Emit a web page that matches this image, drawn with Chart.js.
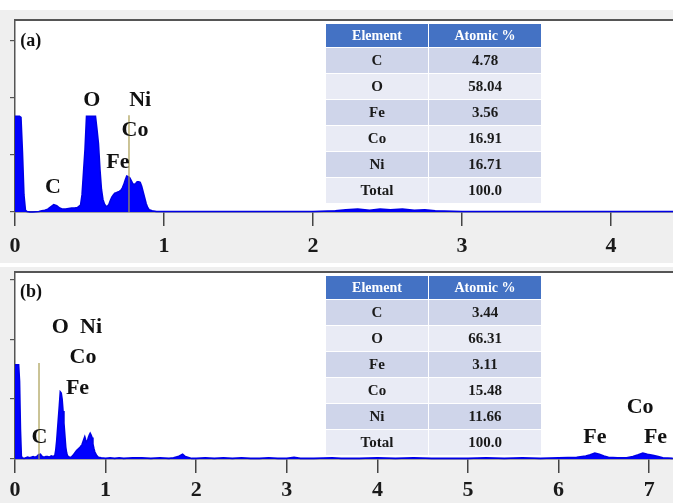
<!DOCTYPE html>
<html>
<head>
<meta charset="utf-8">
<script src="https://cdn.jsdelivr.net/npm/chart.js@4/dist/chart.umd.min.js"></script>
<style>
  html, body { margin:0; padding:0; background:#ffffff; width:673px; height:503px; overflow:hidden; }
  .bg { position:absolute; left:0; width:673px; background:#efefef; }
  .cw { position:absolute; left:0; width:673px; }
  table.eds { position:absolute; border-collapse:collapse; font-family:'Liberation Serif','Times New Roman',serif; font-weight:bold; color:#1a1a1a; }
  table.eds td, table.eds th { padding:0; text-align:center; border:1px solid #ffffff; }
  table.eds th { background:#4472c4; color:#ffffff; font-size:14px; }
  table.eds td { font-size:15px; }
  table.eds tr.d td { background:#cfd5ea; }
  table.eds tr.l td { background:#e9ebf5; }
</style>
</head>
<body>
<div class="bg" style="top:10px;height:253px;"></div>
<div class="bg" style="top:267px;height:236px;"></div>
<div class="cw" style="top:0;height:258px;"><canvas id="ca"></canvas></div>
<div class="cw" style="top:258px;height:245px;"><canvas id="cb"></canvas></div>
<table class="eds" id="ta" style="left:325px;top:23px;width:217px;"></table>
<table class="eds" id="tb" style="left:325px;top:275px;width:217px;"></table>
<script>
// ---------- DATA ----------
const tableElements = ['C', 'O', 'Fe', 'Co', 'Ni', 'Total'];
const atomicA = ['4.78', '58.04', '3.56', '16.91', '16.71', '100.0'];
const atomicB = ['3.44', '66.31', '3.11', '15.48', '11.66', '100.0'];
const tableHeaders = ['Element', 'Atomic %'];

const energyA = [0.00,0.01,0.02,0.03,0.04,0.05,0.06,0.07,0.08,0.10,0.12,0.14,0.16,0.18,0.20,0.22,0.24,0.26,0.28,0.30,0.32,0.34,0.36,0.38,0.40,0.42,0.44,0.45,0.46,0.47,0.48,0.49,0.50,0.51,0.52,0.53,0.54,0.55,0.56,0.57,0.58,0.59,0.60,0.61,0.62,0.63,0.64,0.65,0.66,0.67,0.68,0.69,0.70,0.71,0.72,0.73,0.74,0.75,0.76,0.77,0.78,0.79,0.80,0.81,0.82,0.83,0.84,0.85,0.86,0.87,0.88,0.89,0.90,0.92,0.95,1.00,1.20,1.50,2.00,2.15,2.22,2.30,2.38,2.45,2.52,2.60,2.68,2.75,2.82,3.00,3.50,4.00,4.50];
const countsA = [1.68,1.68,1.68,1.68,1.66,1.05,0.30,0.03,0.01,0.00,0.00,0.005,0.01,0.02,0.03,0.05,0.09,0.13,0.11,0.07,0.05,0.05,0.06,0.07,0.07,0.08,0.12,0.30,0.70,1.10,1.68,1.68,1.68,1.68,1.68,1.68,1.68,1.45,1.20,0.75,0.40,0.22,0.14,0.10,0.10,0.13,0.20,0.26,0.30,0.33,0.34,0.35,0.36,0.38,0.42,0.48,0.56,0.63,0.62,0.60,0.55,0.50,0.48,0.50,0.53,0.53,0.52,0.45,0.35,0.25,0.15,0.08,0.04,0.02,0.01,0.01,0.01,0.01,0.01,0.02,0.04,0.05,0.03,0.05,0.04,0.05,0.03,0.04,0.02,0.01,0.01,0.01,0.01];

const energyB = [0.00,0.01,0.02,0.03,0.04,0.05,0.06,0.07,0.08,0.10,0.12,0.14,0.16,0.18,0.20,0.22,0.24,0.26,0.28,0.30,0.32,0.34,0.36,0.38,0.40,0.42,0.44,0.45,0.46,0.47,0.48,0.49,0.50,0.51,0.52,0.53,0.54,0.55,0.56,0.57,0.58,0.60,0.62,0.64,0.66,0.68,0.70,0.72,0.74,0.76,0.77,0.78,0.79,0.80,0.81,0.82,0.83,0.84,0.85,0.86,0.87,0.88,0.90,0.92,0.95,1.00,1.05,1.10,1.15,1.20,1.30,1.40,1.50,1.60,1.70,1.75,1.80,1.85,1.88,1.95,2.00,2.10,2.20,2.30,2.40,2.50,2.60,2.70,2.80,2.90,3.00,3.08,3.15,3.30,3.50,3.60,3.80,4.00,4.20,4.40,4.60,4.80,5.00,5.20,5.40,5.60,5.80,6.00,6.20,6.30,6.35,6.40,6.45,6.50,6.55,6.65,6.75,6.82,6.88,6.93,6.98,7.04,7.10,7.15,7.26];
const countsB = [1.57,1.57,1.57,1.57,1.57,1.30,0.50,0.05,0.02,0.01,0.02,0.03,0.02,0.03,0.04,0.03,0.04,0.07,0.08,0.04,0.03,0.04,0.04,0.03,0.05,0.04,0.06,0.15,0.30,0.50,0.70,0.90,1.12,1.10,1.00,0.80,0.60,0.40,0.20,0.10,0.05,0.03,0.03,0.06,0.10,0.14,0.17,0.20,0.24,0.33,0.37,0.32,0.28,0.30,0.36,0.40,0.43,0.40,0.36,0.25,0.18,0.12,0.06,0.03,0.02,0.01,0.02,0.01,0.02,0.01,0.02,0.02,0.01,0.02,0.01,0.02,0.04,0.08,0.04,0.01,0.01,0.02,0.01,0.02,0.01,0.02,0.01,0.01,0.02,0.01,0.01,0.03,0.01,0.01,0.02,0.01,0.01,0.02,0.01,0.02,0.01,0.01,0.01,0.02,0.01,0.02,0.01,0.02,0.03,0.05,0.07,0.10,0.08,0.05,0.03,0.02,0.02,0.04,0.07,0.10,0.08,0.06,0.04,0.02,0.01];

// marker lines (energy, top count)
const markerA = { energy: 0.765, top: 1.70 };
const markerB = { energy: 0.265, top: 1.60 };

// peak annotation labels
const peakTextA = ['C', 'O', 'Ni', 'Co', 'Fe'];
const peakXA = [0.255, 0.515, 0.84, 0.805, 0.69];
const peakYA = [0.43, 1.96, 1.96, 1.44, 0.88];
const peakTextB = ['O', 'Ni', 'Co', 'Fe', 'C', 'Fe', 'Co', 'Fe'];
const peakXB = [0.50, 0.84, 0.75, 0.69, 0.27, 6.40, 6.90, 7.07];
const peakYB = [2.20, 2.20, 1.70, 1.18, 0.37, 0.37, 0.87, 0.37];

const panelTagA = { text: '(a)', x: 0.035, y: 3.0 };
const panelTagB = { text: '(b)', x: 0.055, y: 2.78 };

const xMaxA = 4.416, yMaxA = 3.37;
const xMaxB = 7.263, yMaxB = 3.12;
const xTickValues = [0,1,2,3,4,5,6,7];

// ---------- TABLES ----------
function buildTable(id, values, rowH) {
  const t = document.getElementById(id);
  let html = '<tr style="height:24px"><th style="width:102px">' + tableHeaders[0] + '</th><th>' + tableHeaders[1] + '</th></tr>';
  tableElements.forEach((el, i) => {
    html += '<tr class="' + (i % 2 === 0 ? 'd' : 'l') + '" style="height:' + rowH + 'px"><td>' + el + '</td><td>' + values[i] + '</td></tr>';
  });
  t.innerHTML = html;
}
buildTable('ta', atomicA, 26);
buildTable('tb', atomicB, 26);

// ---------- CHARTS ----------
const SERIF = "'Liberation Serif','Times New Roman',serif";

const decorPlugin = {
  id: 'decor',
  beforeDraw(chart) {
    const { ctx, chartArea: a } = chart;
    ctx.save();
    ctx.fillStyle = '#ffffff';
    ctx.fillRect(a.left, a.top, a.right - a.left + 2, a.bottom - a.top);
    ctx.restore();
  },
  afterDraw(chart, args, opts) {
    const { ctx, chartArea: a, scales } = chart;
    ctx.save();
    ctx.strokeStyle = '#555555';
    ctx.lineWidth = 2;
    ctx.beginPath();
    ctx.moveTo(a.left - 1, a.top);
    ctx.lineTo(a.right + 2, a.top);
    ctx.stroke();
    ctx.fillStyle = '#111111';
    ctx.textBaseline = 'middle';
    ctx.textAlign = 'center';
    ctx.font = 'bold 22px ' + SERIF;
    opts.texts.forEach((t, i) => {
      ctx.fillText(t, scales.x.getPixelForValue(opts.xs[i]), scales.y.getPixelForValue(opts.ys[i]));
    });
    ctx.textAlign = 'left';
    ctx.font = 'bold 18px ' + SERIF;
    ctx.fillText(opts.tag.text, scales.x.getPixelForValue(opts.tag.x), scales.y.getPixelForValue(opts.tag.y));
    ctx.restore();
  }
};

function makeChart(canvasId, energy, counts, marker, xMax, yMax, padTop, xAxisH, labelPad, texts, xs, ys, tag) {
  const spectrum = energy.map((e, i) => ({ x: e, y: counts[i] }));
  const markerLine = [{ x: marker.energy, y: 0 }, { x: marker.energy, y: marker.top }];
  return new Chart(document.getElementById(canvasId), {
    type: 'line',
    data: {
      datasets: [
        { data: markerLine, borderColor: '#a89c50', borderWidth: 1.2, pointRadius: 0, fill: false, tension: 0 },
        { data: spectrum, borderColor: '#0000e6', backgroundColor: '#0000ff', borderWidth: 1.6, pointRadius: 0, fill: 'origin', tension: 0, clip: 4 }
      ]
    },
    options: {
      responsive: true, maintainAspectRatio: false, animation: false,
      layout: { padding: { top: padTop, left: 0, right: 0, bottom: 0 } },
      plugins: {
        legend: { display: false }, tooltip: { enabled: false },
        decor: { texts: texts, xs: xs, ys: ys, tag: tag }
      },
      scales: {
        x: {
          type: 'linear', min: 0, max: xMax,
          afterFit(s) { s.height = xAxisH; },
          afterBuildTicks(s) { s.ticks = xTickValues.filter(v => v <= xMax).map(v => ({ value: v })); },
          ticks: { stepSize: 1, includeBounds: false, autoSkip: false, maxRotation: 0, padding: labelPad, color: '#1a1a1a',
                   font: { family: SERIF, size: 22, weight: 'bold' } },
          grid: { drawOnChartArea: false, drawTicks: true, tickLength: 14, color: '#444444', lineWidth: 1.5 },
          border: { display: true, color: '#555555', width: 1.5 }
        },
        y: {
          type: 'linear', min: 0, max: yMax,
          afterFit(s) { s.width = 15; },
          ticks: { display: false, stepSize: 1, includeBounds: false },
          grid: { drawOnChartArea: false, drawTicks: true, tickLength: 5, color: '#555555', lineWidth: 1.2 },
          border: { display: true, color: '#555555', width: 1.5 }
        }
      }
    },
    plugins: [decorPlugin]
  });
}

makeChart('ca', energyA, countsA, markerA, xMaxA, yMaxA, 20, 46, 7, peakTextA, peakXA, peakYA, panelTagA);
makeChart('cb', energyB, countsB, markerB, xMaxB, yMaxB, 14, 44, 4, peakTextB, peakXB, peakYB, panelTagB);
</script>
</body>
</html>
